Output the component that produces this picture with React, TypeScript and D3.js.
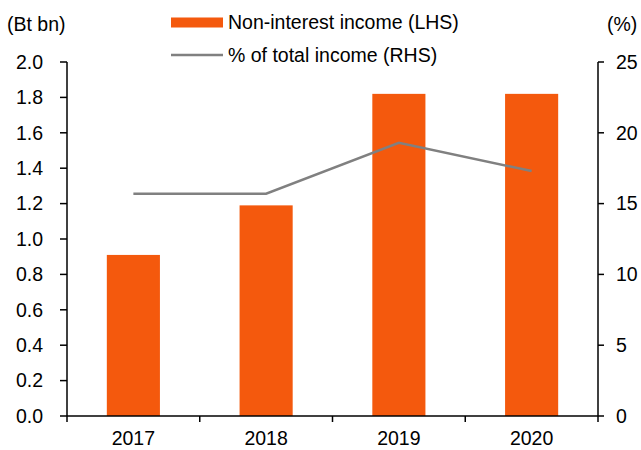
import React from 'react'
import * as d3 from 'd3'

const years = ['2017', '2018', '2019', '2020']
const nonInterestIncome = [0.91, 1.19, 1.82, 1.82]
const pctOfTotal = [15.7, 15.7, 19.3, 17.3]
const leftTicks = [0, 0.2, 0.4, 0.6, 0.8, 1.0, 1.2, 1.4, 1.6, 1.8, 2.0]
const rightTicks = [0, 5, 10, 15, 20, 25]

const W = 641
const H = 450
const left = 67
const right = 598
const top = 62
const bottom = 416
const font = 'Liberation Sans, Arial, sans-serif'
const fs = 19.5
const orange = '#F4590D'
const grey = '#808080'

const App = () => {
  const x = d3.scaleBand().domain(years).range([left, right]).paddingInner(0.6).paddingOuter(0.3)
  const yL = d3.scaleLinear().domain([0, 2]).range([bottom, top])
  const yR = d3.scaleLinear().domain([0, 25]).range([bottom, top])
  const xc = (d: string) => (x(d) as number) + x.bandwidth() / 2

  const line = d3
    .line<number>()
    .x((_, i) => xc(years[i]))
    .y((d) => yR(d))

  // category boundaries for bottom ticks
  const step = (right - left) / years.length
  const boundaries = d3.range(years.length + 1).map((i) => left + i * step)

  return (
    <svg width={W} height={H} style={{ position: 'absolute', left: 0, top: 0 }} fontFamily={font}>
      <rect width={W} height={H} fill="white" />
      {/* bars */}
      {years.map((yr, i) => (
        <rect
          key={yr}
          x={x(yr)}
          y={yL(nonInterestIncome[i])}
          width={x.bandwidth()}
          height={bottom - yL(nonInterestIncome[i])}
          fill={orange}
        />
      ))}
      {/* line */}
      <path d={line(pctOfTotal) as string} fill="none" stroke={grey} strokeWidth={2.5} />

      {/* left axis */}
      <line x1={left} x2={left} y1={top} y2={bottom} stroke="black" strokeWidth={1.5} />
      {leftTicks.map((t) => (
        <g key={t}>
          <line x1={left - 7} x2={left} y1={yL(t)} y2={yL(t)} stroke="black" strokeWidth={1.5} />
          <text x={43} y={yL(t)} dy="0.35em" textAnchor="end" fontSize={fs}>
            {d3.format('.1f')(t)}
          </text>
        </g>
      ))}
      {/* right axis */}
      <line x1={right} x2={right} y1={top} y2={bottom} stroke="black" strokeWidth={1.5} />
      {rightTicks.map((t) => (
        <g key={t}>
          <line x1={right} x2={right + 6} y1={yR(t)} y2={yR(t)} stroke="black" strokeWidth={1.5} />
          <text x={616} y={yR(t)} dy="0.35em" textAnchor="start" fontSize={fs}>
            {t}
          </text>
        </g>
      ))}
      {/* bottom axis */}
      <line x1={left} x2={right} y1={bottom} y2={bottom} stroke="black" strokeWidth={1.5} />
      {boundaries.map((b) => (
        <line key={b} x1={b} x2={b} y1={bottom} y2={bottom + 6} stroke="black" strokeWidth={1.5} />
      ))}
      {years.map((yr) => (
        <text key={yr} x={xc(yr)} y={438} dy="0.35em" textAnchor="middle" fontSize={fs}>
          {yr}
        </text>
      ))}

      {/* axis units */}
      <text x={7} y={24} dy="0.35em" fontSize={fs}>(Bt bn)</text>
      <text x={607} y={24} dy="0.35em" fontSize={fs}>(%)</text>

      {/* legend */}
      <rect x={171} y={17.5} width={52} height={10} fill={orange} />
      <text x={228} y={22} dy="0.35em" fontSize={fs}>Non-interest income (LHS)</text>
      <line x1={171} x2={223} y1={55} y2={55} stroke={grey} strokeWidth={2.5} />
      <text x={228} y={55} dy="0.35em" fontSize={fs}>% of total income (RHS)</text>
    </svg>
  )
}

export default App
